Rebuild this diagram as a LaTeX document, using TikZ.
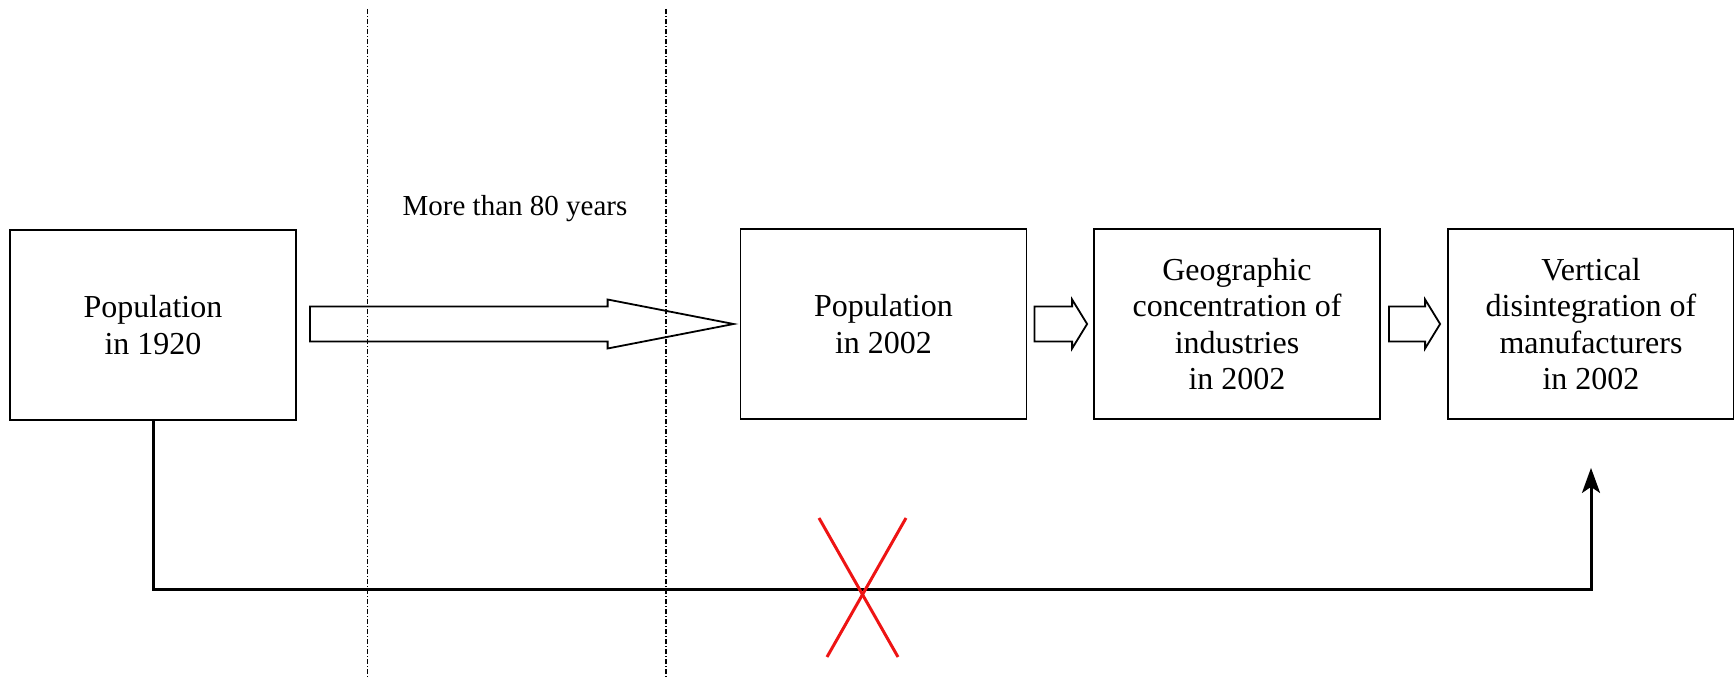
\documentclass[tikz,border=0pt]{standalone}
\usepackage{fontspec}
\setmainfont{Liberation Serif}
\usetikzlibrary{arrows.meta,calc}
\tikzset{
  box/.style={draw, line width=0.9pt, minimum width=143pt, minimum height=95pt,
    align=center, inner sep=0pt, font=\fontsize{16}{18.2}\selectfont},
  lbl/.style={inner sep=0pt, font=\fontsize{14.5}{17}\selectfont},
  hollow/.style={draw, line width=0.9pt, line join=miter},
  dashdot/.style={line width=0.7pt, dash pattern=on 2.5pt off 1pt on 0.5pt off 1pt},
  conn/.style={line width=1.5pt, -{Stealth[length=12.5pt,width=9pt,inset=3pt]}},
  redx/.style={line width=1.5pt, draw={rgb,255:red,238;green,20;blue,20}}
}
\newcommand{\blockarr}[5]{%
  \draw[hollow] let \p1=(#1), \p2=(#2) in
    (\x1+#4,\y2+8.75pt) -- (\x2-#5-#3,\y2+8.75pt) -- (\x2-#5-#3,\y2+12.25pt) --
    (\x2-#5,\y2) -- (\x2-#5-#3,\y2-12.25pt) -- (\x2-#5-#3,\y2-8.75pt) --
    (\x1+#4,\y2-8.75pt) -- cycle;}
\begin{document}
\begin{tikzpicture}[x=0.5pt,y=-0.5pt]
\useasboundingbox (0,0) rectangle (1734,679);
% dash-dot separators
\coordinate (d1t) at (367.5,9); \coordinate (d1b) at (367.5,679);
\coordinate (d2t) at (666,9);   \coordinate (d2b) at (666,679);
\draw[dashdot] (d1t) -- (d1b);
\draw[dashdot] (d2t) -- (d2b);
% boxes
\node[box] (b1) at (153,325) {Population\\in 1920};
\node[box] (b2) at (883.5,324) {Population\\in 2002};
\node[box] (b3) at (1237,324) {Geographic\\concentration of\\industries\\in 2002};
\node[box] (b4) at (1591,324) {Vertical\\disintegration of\\manufacturers\\in 2002};
\node[lbl] (yrs) at (515,209) {More than 80 years};
% block arrows
\blockarr{b1.east}{b2.west}{63pt}{6.5pt}{3pt}
\blockarr{b2.east}{b3.west}{7.5pt}{3.5pt}{3pt}
\blockarr{b3.east}{b4.west}{7.5pt}{4pt}{3.5pt}
% long connector
\coordinate (aend) at ([yshift=-24pt]b4.south);
\coordinate (low) at (0,589);
\draw[conn] (b1.south) |- (aend |- low) -- (aend);
% red cross
\draw[redx] (819,518) -- (898,657);
\draw[redx] (906,518) -- (827,657);
\end{tikzpicture}
\end{document}
